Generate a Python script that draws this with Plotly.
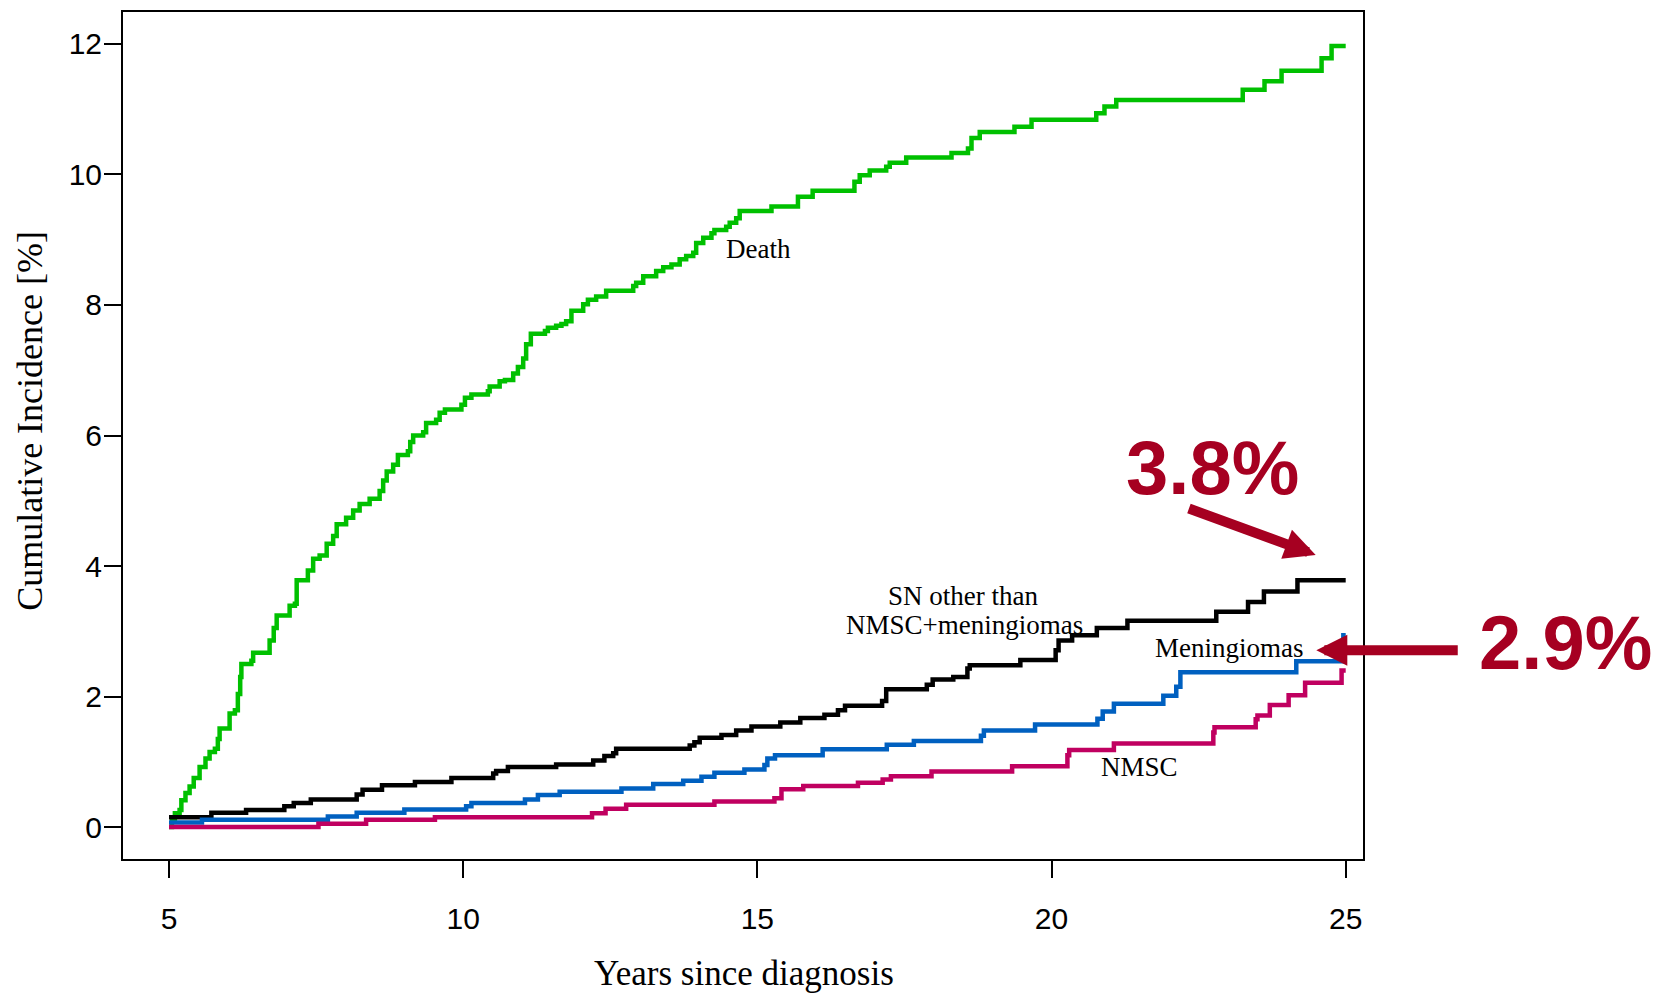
import plotly.graph_objects as go

# ---------------- data ----------------
x_ticks = [5, 10, 15, 20, 25]
y_ticks = [0, 2, 4, 6, 8, 10, 12]

death_t = [5.00, 5.05, 5.10, 5.18, 5.21, 5.28, 5.35, 5.42, 5.52, 5.62,
           5.69, 5.78, 5.83, 5.86, 6.03, 6.12, 6.17, 6.21, 6.23, 6.40,
           6.43, 6.71, 6.78, 6.83, 7.05, 7.14, 7.17, 7.36, 7.45, 7.56,
           7.68, 7.79, 7.85, 8.01, 8.13, 8.24, 8.41, 8.58, 8.64, 8.70,
           8.81, 8.89, 9.06, 9.10, 9.15, 9.32, 9.37, 9.54, 9.60, 9.69,
           9.97, 10.03, 10.14, 10.42, 10.45, 10.62, 10.71, 10.85, 10.93, 11.02,
           11.07, 11.15, 11.39, 11.44, 11.58, 11.67, 11.75, 11.84, 12.04, 12.12,
           12.26, 12.43, 12.89, 12.94, 13.06, 13.28, 13.40, 13.54, 13.68, 13.79,
           13.91, 13.96, 14.08, 14.22, 14.27, 14.47, 14.53, 14.64, 14.70, 15.24,
           15.69, 15.94, 16.65, 16.74, 16.91, 17.19, 17.25, 17.53, 18.30, 18.58,
           18.64, 18.78, 19.37, 19.66, 20.76, 20.90, 21.10, 23.25, 23.62, 23.91,
           24.59, 24.76, 25.00]
death_ci = [0.00, 0.10, 0.21, 0.26, 0.41, 0.52, 0.62, 0.75, 0.92, 1.05,
            1.15, 1.20, 1.35, 1.51, 1.74, 1.79, 2.04, 2.30, 2.50, 2.55,
            2.67, 2.86, 3.05, 3.24, 3.39, 3.42, 3.78, 3.93, 4.11, 4.16,
            4.34, 4.46, 4.64, 4.74, 4.85, 4.95, 5.03, 5.15, 5.31, 5.45,
            5.55, 5.70, 5.76, 5.90, 6.00, 6.05, 6.19, 6.24, 6.35, 6.40,
            6.47, 6.58, 6.63, 6.68, 6.75, 6.83, 6.85, 6.95, 7.05, 7.18,
            7.40, 7.56, 7.60, 7.65, 7.68, 7.71, 7.75, 7.91, 8.01, 8.08,
            8.13, 8.22, 8.29, 8.34, 8.44, 8.52, 8.58, 8.62, 8.70, 8.75,
            8.80, 8.95, 9.03, 9.10, 9.15, 9.20, 9.26, 9.33, 9.44, 9.51,
            9.66, 9.75, 9.89, 9.99, 10.06, 10.12, 10.18, 10.26, 10.33, 10.40,
            10.56, 10.65, 10.73, 10.84, 10.94, 11.04, 11.14, 11.30, 11.43, 11.59,
            11.78, 11.97, 11.97]

sn_t = [5.00, 5.72, 6.31, 6.96, 7.12, 7.41, 8.19, 8.29, 8.62, 9.18,
        9.80, 10.51, 10.56, 10.76, 11.58, 12.21, 12.40, 12.55, 12.60, 13.85,
        13.93, 14.02, 14.39, 14.64, 14.90, 15.39, 15.73, 16.14, 16.37, 16.49,
        17.12, 17.19, 17.88, 17.98, 18.33, 18.57, 18.61, 19.47, 20.07, 20.12,
        20.35, 20.77, 21.29, 22.80, 23.34, 23.61, 24.18, 25.00]
sn_ci = [0.15, 0.22, 0.26, 0.32, 0.37, 0.42, 0.50, 0.57, 0.64, 0.69,
         0.75, 0.82, 0.86, 0.92, 0.96, 1.02, 1.09, 1.13, 1.20, 1.25,
         1.30, 1.37, 1.41, 1.48, 1.54, 1.60, 1.67, 1.72, 1.79, 1.86,
         1.93, 2.11, 2.18, 2.26, 2.30, 2.43, 2.48, 2.56, 2.71, 2.86,
         2.94, 3.05, 3.16, 3.30, 3.45, 3.61, 3.78, 3.78]

men_t = [5.00, 5.56, 7.70, 8.19, 9.00, 10.05, 10.14, 11.05, 11.27, 11.64,
         12.69, 13.23, 13.74, 14.05, 14.27, 14.78, 15.12, 15.17, 15.30, 16.11,
         17.20, 17.66, 18.80, 18.85, 19.72, 20.78, 20.87, 21.06, 21.90, 22.12,
         22.19, 24.16, 24.96, 25.00]
men_ci = [0.07, 0.11, 0.16, 0.22, 0.27, 0.32, 0.37, 0.42, 0.49, 0.54,
          0.59, 0.66, 0.71, 0.77, 0.83, 0.88, 0.95, 1.05, 1.10, 1.19,
          1.26, 1.32, 1.40, 1.48, 1.57, 1.66, 1.77, 1.89, 2.01, 2.15,
          2.37, 2.54, 2.94, 2.94]

nmsc_t = [5.00, 7.54, 8.35, 9.52, 12.19, 12.42, 12.77, 14.27, 15.29, 15.41,
          15.78, 16.71, 17.13, 17.27, 17.96, 19.33, 20.27, 20.30, 21.06, 22.75,
          22.77, 23.47, 23.50, 23.71, 24.03, 24.31, 24.93, 25.00]
nmsc_ci = [0.00, 0.05, 0.11, 0.15, 0.21, 0.28, 0.34, 0.39, 0.44, 0.58,
           0.63, 0.68, 0.73, 0.78, 0.85, 0.93, 1.10, 1.18, 1.28, 1.45,
           1.53, 1.65, 1.71, 1.87, 2.02, 2.21, 2.40, 2.40]

assert len(death_t) == len(death_ci)
assert len(sn_t) == len(sn_ci)
assert len(men_t) == len(men_ci)
assert len(nmsc_t) == len(nmsc_ci)

# ---------------- styles ----------------
GREEN = "rgb(0,192,0)"
BLACK = "rgb(0,0,0)"
BLUE = "rgb(0,96,192)"
MAGENTA = "rgb(192,0,96)"
DARKRED = "rgb(166,0,33)"
SANS = "Liberation Sans, Arial, sans-serif"
SERIF = "Liberation Serif, Times New Roman, serif"

fig = go.Figure()
for t, ci, col in [(death_t, death_ci, GREEN), (sn_t, sn_ci, BLACK),
                   (men_t, men_ci, BLUE), (nmsc_t, nmsc_ci, MAGENTA)]:
    fig.add_trace(go.Scatter(x=t, y=ci, mode="lines",
                             line=dict(color=col, width=4.5, shape="hv"),
                             showlegend=False, hoverinfo="skip"))

fig.update_layout(width=1653, height=994,
                  margin=dict(l=123, r=290, t=10, b=135),
                  paper_bgcolor="white", plot_bgcolor="white",
                  showlegend=False)

axis_common = dict(ticks="outside", ticklen=17, tickwidth=1.5, tickcolor="black",
                   showline=True, linewidth=2, linecolor="black", mirror=True,
                   showgrid=False, zeroline=False,
                   tickfont=dict(family=SANS, size=30, color="black"))
fig.update_xaxes(range=[4.218, 25.294], tickvals=x_ticks,
                 ticktext=[str(v) for v in x_ticks], ticklabelstandoff=15,
                 **axis_common)
fig.update_yaxes(range=[-0.49, 12.49], tickvals=y_ticks,
                 ticktext=[str(v) for v in y_ticks], ticklabelstandoff=-4,
                 **axis_common)

# axis titles
fig.add_annotation(text="Years since diagnosis", xref="paper", yref="paper",
                   x=0.5006, y=-0.1355, xanchor="center", yanchor="middle",
                   showarrow=False, font=dict(family=SERIF, size=35, color="black"))
fig.add_annotation(text="Cumulative Incidence [%]", xref="paper", yref="paper",
                   x=-0.0752, y=0.517, xanchor="center", yanchor="middle",
                   textangle=-90, showarrow=False,
                   font=dict(family=SERIF, size=36, color="black"))

# curve labels
lab_font = dict(family=SERIF, size=27, color="black")
for txt, x, y in [("Death", 15.02, 8.86),
                  ("SN other than", 18.49, 3.54),
                  ("NMSC+meningiomas", 18.52, 3.10),
                  ("Meningiomas", 23.03, 2.74),
                  ("NMSC", 21.50, 0.92)]:
    fig.add_annotation(text=txt, x=x, y=y, xref="x", yref="y",
                       xanchor="center", yanchor="middle",
                       showarrow=False, font=lab_font)

# highlighted values
big_font = dict(family=SANS, size=76, color=DARKRED, weight="bold")
fig.add_annotation(text="3.8%", x=(1213 - 123.3) / 1240, y=(859 - 467) / 849,
                   xref="paper", yref="paper",
                   xanchor="center", yanchor="middle", showarrow=False, font=big_font)
fig.add_annotation(text="2.9%", x=(1566 - 123.3) / 1240, y=(859 - 642) / 849,
                   xref="paper", yref="paper",
                   xanchor="center", yanchor="middle", showarrow=False, font=big_font)

# arrows
for (tx, ty, hx, hy) in [(22.31, 4.89, 24.49, 4.17), (26.93, 2.71, 24.50, 2.71)]:
    fig.add_annotation(text="", x=hx, y=hy, xref="x", yref="y",
                       ax=tx, ay=ty, axref="x", ayref="y",
                       showarrow=True, arrowhead=2, arrowsize=0.62,
                       arrowwidth=10, arrowcolor=DARKRED, standoff=0)

fig.write_html("out.html")
